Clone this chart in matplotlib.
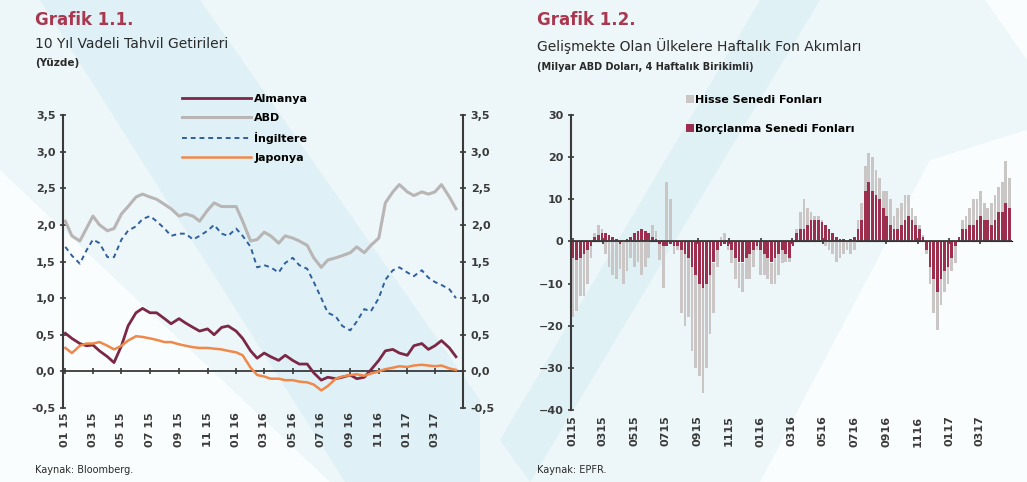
import numpy as np
import pandas as pd
import matplotlib
matplotlib.use("Agg")
import matplotlib.pyplot as plt
import matplotlib.dates as mdates
from matplotlib.patches import Polygon
from matplotlib.ticker import FuncFormatter, MultipleLocator, NullFormatter

W, H = 1027, 482

# Grafik 1.1 - 10 yil vadeli tahvil getirileri, yarim ayda bir okunan degerler
yield_dates = pd.date_range("2015-01-01", periods=56, freq="SMS")
almanya = [0.52, 0.45, 0.38, 0.35, 0.36, 0.28, 0.20, 0.12, 0.35, 0.62, 0.80, 0.86,
           0.80, 0.80, 0.72, 0.65, 0.72, 0.66, 0.60, 0.55, 0.58, 0.50, 0.60, 0.62,
           0.55, 0.45, 0.28, 0.18, 0.25, 0.20, 0.15, 0.22, 0.15, 0.10, 0.10, -0.02,
           -0.12, -0.08, -0.10, -0.08, -0.05, -0.10, -0.08, 0.02, 0.15, 0.28, 0.30, 0.25,
           0.22, 0.35, 0.38, 0.30, 0.35, 0.42, 0.32, 0.20]
abd = [2.05, 1.85, 1.78, 1.95, 2.12, 2.00, 1.92, 1.95, 2.15, 2.25, 2.38, 2.42,
       2.38, 2.35, 2.28, 2.22, 2.12, 2.15, 2.12, 2.05, 2.20, 2.30, 2.25, 2.25,
       2.25, 2.05, 1.78, 1.80, 1.90, 1.85, 1.75, 1.85, 1.82, 1.78, 1.72, 1.55,
       1.42, 1.52, 1.55, 1.58, 1.62, 1.70, 1.62, 1.72, 1.82, 2.30, 2.45, 2.55,
       2.45, 2.40, 2.45, 2.42, 2.45, 2.55, 2.38, 2.22]
ingiltere = [1.70, 1.58, 1.47, 1.65, 1.80, 1.75, 1.56, 1.56, 1.80, 1.92, 1.98, 2.08,
             2.12, 2.05, 1.95, 1.85, 1.88, 1.88, 1.80, 1.85, 1.92, 2.00, 1.88, 1.85,
             1.95, 1.85, 1.70, 1.42, 1.45, 1.42, 1.35, 1.48, 1.55, 1.45, 1.40, 1.22,
             1.00, 0.80, 0.75, 0.62, 0.56, 0.68, 0.85, 0.82, 1.00, 1.25, 1.38, 1.42,
             1.35, 1.30, 1.38, 1.28, 1.22, 1.18, 1.12, 1.00]
japonya = [0.32, 0.25, 0.35, 0.38, 0.38, 0.40, 0.35, 0.30, 0.35, 0.42, 0.48, 0.47,
           0.45, 0.43, 0.40, 0.40, 0.37, 0.35, 0.33, 0.32, 0.32, 0.31, 0.30, 0.28,
           0.26, 0.22, 0.05, -0.05, -0.07, -0.10, -0.10, -0.12, -0.12, -0.14, -0.15, -0.18,
           -0.26, -0.20, -0.10, -0.07, -0.05, -0.04, -0.06, -0.03, 0.00, 0.03, 0.05, 0.07,
           0.06, 0.08, 0.09, 0.08, 0.07, 0.08, 0.04, 0.02]

# Grafik 1.2 - haftalik fon akimlari (milyar ABD dolari, 4 haftalik birikimli)
flow_weeks = pd.date_range("2015-01-02", periods=122, freq="W-FRI")
borclanma = [-4, -4.5, -4, -3, -2, -1, 1, 1.5, 2, 2, 1.5, 1, 0.5, -0.5, 0, 0.5, 1, 2, 2.5, 3,
             2.5, 2, 1, 0.5, -0.5, -1, -1, -0.5, -1, -1, -2, -3, -4, -6, -8, -10, -11, -10, -8, -5,
             -2, -1, -0.5, -1, -2, -4, -5, -5, -4, -3, -2, -1, -2, -3, -4, -5, -4, -3, -2, -3,
             -4, -1, 2, 3, 3, 4, 5, 5, 5, 4.5, 4, 3, 2, 1, 0.5, 0.5, 0, 0.5, 1, 3,
             5, 12, 14, 12, 11, 10, 8, 6, 4, 3, 3, 4, 5, 6, 5, 4, 3, 1, -2, -6,
             -9, -12, -9, -7, -6, -4, -1, 1, 3, 3, 4, 4, 5, 6, 5, 5, 4, 5, 7, 7,
             9, 8]
hisse = [-14, -12, -9, -10, -8, -3, 1, 2.5, 1, -3, -6, -8, -9, -6, -10, -7, -4, -6, -5, -8,
         -6, -4, 3, 2, -4, -10, 14, 10, -2, -1, -15, -17, -14, -20, -22, -22, -25, -20, -14, -12,
         -4, 1, 2, -1, -3, -5, -6, -7, -5, -6, -4, -1, -6, -5, -5, -5, -6, -5, -3, -2,
         -1, 0, 1, 4, 7, 4, 2, 1, 1, 0.5, -1, -2, -3, -5, -4, -3, -2, -3, -2, 2,
         4, 6, 7, 8, 6, 5, 4, 6, 6, 3, 5, 5, 6, 5, 3, 2, 1, 0.5, -1, -4,
         -8, -9, -6, -5, -4, -3, -4, 0, 2, 3, 4, 6, 5, 6, 4, 3, 5, 6, 6, 7,
         10, 7]

tick_months = pd.date_range("2015-01-01", "2017-03-01", freq="2MS")
left_ticklabels = [d.strftime("%m %y") for d in tick_months]
right_ticklabels = [d.strftime("%m%y") for d in tick_months]

DARK = "#3a3a3a"
TITLE_RED = "#a8374f"
plt.rcParams["font.family"] = ["DejaVu Sans"]


def px(x, y):
    return (x / W, 1 - y / H)


fig = plt.figure(figsize=(W / 100, H / 100), dpi=100)
fig.patch.set_facecolor("#edf6f8")

# watermark-like background shapes, on an axes behind everything (pixel coords)
bg_ax = fig.add_axes([0, 0, 1, 1], zorder=-10)
bg_ax.set_xlim(0, W)
bg_ax.set_ylim(H, 0)
bg_ax.axis("off")
bg = [
    ([(0, 170), (0, 482), (330, 482)], "#fafdfd"),
    ([(40, 0), (200, 0), (480, 400), (480, 482), (345, 482)], "#dff1f6"),
    ([(760, 482), (1027, 482), (1027, 130), (930, 160)], "#fafdfd"),
    ([(500, 440), (530, 482), (820, 0), (760, 0)], "#e0f1f6"),
    ([(985, 0), (1027, 0), (1027, 60)], "#fafdfd"),
]
for pts, col in bg:
    bg_ax.add_patch(Polygon(pts, closed=True, facecolor=col, edgecolor="none"))

# ---------------- Grafik 1.1 ----------------
ax1 = fig.add_axes([63 / W, 1 - 408 / H, (463 - 63) / W, (408 - 115) / H])
ax1.patch.set_alpha(0)
xd = mdates.date2num(yield_dates)
l1, = ax1.plot(xd, almanya, color="#7b2846", lw=2.0, label="Almanya")
l2, = ax1.plot(xd, abd, color="#b9b5b5", lw=2.2, label="ABD")
l3, = ax1.plot(xd, ingiltere, color="#2f5f9c", lw=1.4, ls=(0, (2.5, 2)), label="İngiltere")
l4, = ax1.plot(xd, japonya, color="#f0884a", lw=1.8, label="Japonya")
ax1.axhline(0, color=DARK, lw=1.3, zorder=1)

ax1.set_ylim(-0.5, 3.5)
ax1.set_xlim(mdates.date2num(pd.Timestamp("2014-12-27")), mdates.date2num(pd.Timestamp("2017-04-30")))
ax1.yaxis.set_major_locator(MultipleLocator(0.5))
comma = FuncFormatter(lambda v, p: f"{v:.1f}".replace(".", ","))
ax1.yaxis.set_major_formatter(comma)
ax1.tick_params(axis="y", which="both", left=True, right=True, labelleft=True, labelright=True,
                direction="inout", length=5, width=1.2, color=DARK, labelsize=8, labelcolor=DARK, pad=3)
for s in ["top", "bottom"]:
    ax1.spines[s].set_visible(False)
for s in ["left", "right"]:
    ax1.spines[s].set_color(DARK)
    ax1.spines[s].set_linewidth(1.5)

tick_x = mdates.date2num(tick_months)
ax1.set_xticks(tick_x)
ax1.set_xticklabels(left_ticklabels, rotation=90, fontsize=8, color=DARK, fontweight="bold")
ax1.tick_params(axis="x", length=0, pad=3)
sec1 = ax1.secondary_xaxis(0.125)
sec1.set_xticks(tick_x)
sec1.xaxis.set_major_formatter(NullFormatter())
sec1.tick_params(axis="x", direction="inout", length=5, width=1.2, color=DARK,
                 labelbottom=False, labeltop=False)
sec1.spines["bottom"].set_visible(False)
for lab in ax1.get_yticklabels():
    lab.set_fontweight("bold")

ax1.legend(handles=[l1, l2, l3, l4], loc="upper left", bbox_to_anchor=px(172, 84),
           bbox_transform=fig.transFigure, frameon=False, handlelength=6.2, handletextpad=0.3,
           labelspacing=0.8, prop={"weight": "bold", "size": 8})

# ---------------- Grafik 1.2 ----------------
ax2 = fig.add_axes([571 / W, 1 - 410 / H, (1012 - 571) / W, (410 - 115) / H])
ax2.patch.set_alpha(0)
xw = mdates.date2num(flow_weeks)
borc = np.array(borclanma, dtype=float)
his = np.array(hisse, dtype=float)
his_bottom = np.where(np.sign(his) == np.sign(borc), borc, 0.0)
b_h = ax2.bar(xw, his, bottom=his_bottom, width=5.2, color="#cbc6c6", linewidth=0,
              label="Hisse Senedi Fonları", zorder=2)
b_b = ax2.bar(xw, borc, width=5.2, color="#9c2f4e", linewidth=0,
              label="Borçlanma Senedi Fonları", zorder=2)
ax2.axhline(0, color=DARK, lw=1.3, zorder=3)

ax2.set_ylim(-40, 30)
ax2.set_xlim(mdates.date2num(pd.Timestamp("2014-12-29")), mdates.date2num(pd.Timestamp("2017-05-03")))
ax2.yaxis.set_major_locator(MultipleLocator(10))
ax2.tick_params(axis="y", direction="inout", length=5, width=1.2, color=DARK, labelsize=8,
                labelcolor=DARK, pad=3)
for lab in ax2.get_yticklabels():
    lab.set_fontweight("bold")
for s in ["top", "bottom", "right"]:
    ax2.spines[s].set_visible(False)
ax2.spines["left"].set_color(DARK)
ax2.spines["left"].set_linewidth(1.5)
ax2.set_xticks(tick_x)
ax2.set_xticklabels(right_ticklabels, rotation=90, fontsize=8, color=DARK, fontweight="bold")
ax2.tick_params(axis="x", length=0, pad=4)
sec2 = ax2.secondary_xaxis(40 / 70)
sec2.set_xticks(tick_x)
sec2.xaxis.set_major_formatter(NullFormatter())
sec2.tick_params(axis="x", direction="inout", length=5, width=1.2, color=DARK,
                 labelbottom=False, labeltop=False)
sec2.spines["bottom"].set_visible(False)

ax2.legend(handles=[b_h, b_b], loc="upper left", bbox_to_anchor=px(676, 85),
           bbox_transform=fig.transFigure, frameon=False, handlelength=0.7, handleheight=0.7,
           handletextpad=0.15, labelspacing=1.7, prop={"weight": "bold", "size": 8})

# ---------------- titles and notes ----------------
fig.text(*px(35, 20), "Grafik 1.1.", color=TITLE_RED, fontsize=12, fontweight="bold", va="center")
fig.text(*px(35, 44), "10 Yıl Vadeli Tahvil Getirileri", color="#2a2a2a", fontsize=10, va="center")
fig.text(*px(35, 63), "(Yüzde)", color="#2a2a2a", fontsize=7.5, fontweight="bold", va="center")
fig.text(*px(537, 20), "Grafik 1.2.", color=TITLE_RED, fontsize=12, fontweight="bold", va="center")
fig.text(*px(537, 46), "Gelişmekte Olan Ülkelere Haftalık Fon Akımları", color="#2a2a2a",
         fontsize=10, va="center")
fig.text(*px(537, 67), "(Milyar ABD Doları, 4 Haftalık Birikimli)", color="#2a2a2a",
         fontsize=7, fontweight="bold", va="center")
fig.text(*px(35, 470), "Kaynak: Bloomberg.", color="#2a2a2a", fontsize=7, va="center")
fig.text(*px(537, 470), "Kaynak: EPFR.", color="#2a2a2a", fontsize=7, va="center")

fig.savefig("out.png", dpi=100, facecolor=fig.get_facecolor())
